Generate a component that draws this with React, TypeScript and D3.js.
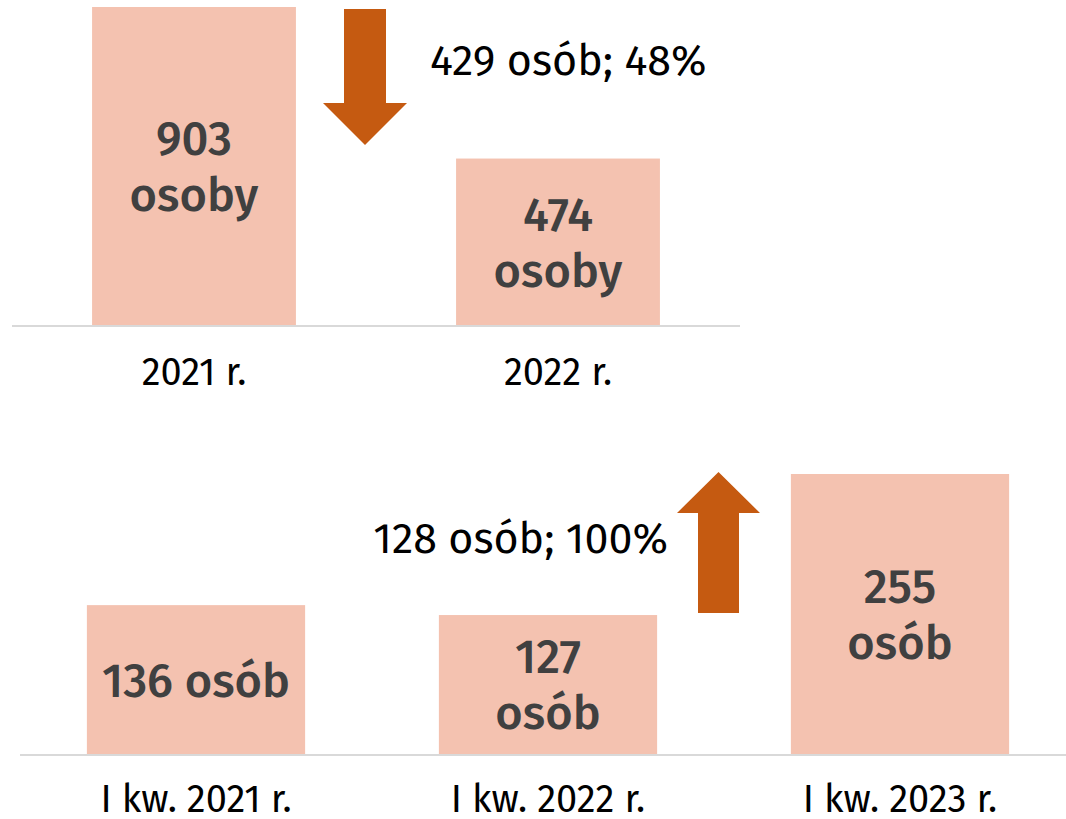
import { useEffect } from "react";
import * as d3 from "d3";

// top panel: whole years
const yearCats = ["2021 r.", "2022 r."];
const yearValues = [903, 474];
const yearLabels = ["903\nosoby", "474\nosoby"];
const yearChange = "429 osób; 48%";

// bottom panel: first quarters
const quarterCats = ["I kw. 2021 r.", "I kw. 2022 r.", "I kw. 2023 r."];
const quarterValues = [136, 127, 255];
const quarterLabels = ["136 osób", "127\nosób", "255\nosób"];
const quarterChange = "128 osób; 100%";

const W = 1066;
const H = 819;
const BAR = "#F4C2B0";
const ARROW = "#C55A11";
const FONT = "'Fira Sans', 'Open Sans', sans-serif";

function arrowPath(cx: number, tail: number, tip: number, headBase: number, shaft: number, head: number) {
  const p = d3.path();
  p.moveTo(cx - shaft / 2, tail);
  p.lineTo(cx - shaft / 2, headBase);
  p.lineTo(cx - head / 2, headBase);
  p.lineTo(cx, tip);
  p.lineTo(cx + head / 2, headBase);
  p.lineTo(cx + shaft / 2, headBase);
  p.lineTo(cx + shaft / 2, tail);
  p.closePath();
  return p.toString();
}

function Panel({ cats, values, labels, x0, x1, base, top, max, padding, labelY }: any) {
  const x = d3.scaleBand<string>().domain(cats).range([x0, x1]).paddingInner(padding).paddingOuter(padding / 2);
  const y = d3.scaleLinear().domain([0, max]).range([base, top]);
  return (
    <g>
      {cats.map((c: string, i: number) => {
        const lines = labels[i].split("\n");
        const cy = (y(values[i]) + base) / 2;
        const lh = 56;
        return (
          <g key={c}>
            <rect x={x(c)} y={y(values[i])} width={x.bandwidth()} height={base - y(values[i])} fill={BAR} />
            <text
              x={x(c)! + x.bandwidth() / 2}
              textAnchor="middle"
              fontFamily={FONT}
              fontWeight={500}
              fontSize={47}
              fill="#404040"
            >
              {lines.map((l: string, j: number) => (
                <tspan key={j} x={x(c)! + x.bandwidth() / 2} y={cy + (j - (lines.length - 1) / 2) * lh} dy="0.35em">
                  {l}
                </tspan>
              ))}
            </text>
            <text
              x={x(c)! + x.bandwidth() / 2}
              y={labelY}
              textAnchor="middle"
              fontFamily={FONT}
              fontSize={38}
              fill="#000"
            >
              {c}
            </text>
          </g>
        );
      })}
      <line x1={x0} x2={x1} y1={base} y2={base} stroke="#d9d9d9" strokeWidth={2} />
    </g>
  );
}

export default function App() {
  useEffect(() => {
    document.body.style.margin = "0";
  }, []);

  return (
    <svg width={W} height={H} style={{ display: "block", background: "#fff" }}>
      <Panel
        cats={yearCats}
        values={yearValues}
        labels={yearLabels}
        x0={12}
        x1={740}
        base={326}
        top={7}
        max={903}
        padding={0.44}
        labelY={385}
      />
      <path d={arrowPath(365, 9, 145, 103, 42, 84)} fill={ARROW} />
      <text x={430} y={75} fontFamily={FONT} fontSize={43} fill="#000">
        {yearChange}
      </text>

      <Panel
        cats={quarterCats}
        values={quarterValues}
        labels={quarterLabels}
        x0={20}
        x1={1076}
        base={755}
        top={474}
        max={255}
        padding={0.38}
        labelY={812}
      />
      <path d={arrowPath(718.5, 613, 472, 513, 41, 83)} fill={ARROW} />
      <text x={668} y={553} textAnchor="end" fontFamily={FONT} fontSize={43} fill="#000">
        {quarterChange}
      </text>
    </svg>
  );
}
